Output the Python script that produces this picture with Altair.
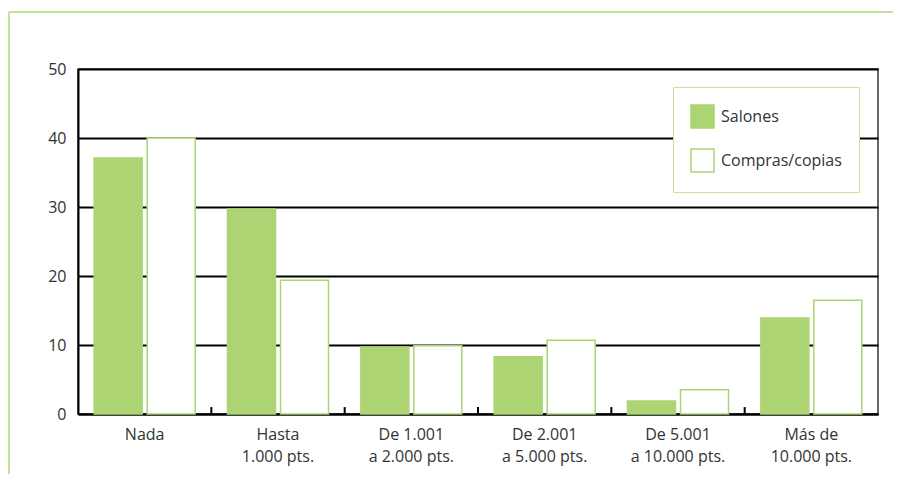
import altair as alt
import pandas as pd

categories = ["Nada", "Hasta\n1.000 pts.", "De 1.001\na 2.000 pts.", "De 2.001\na 5.000 pts.",
              "De 5.001\na 10.000 pts.", "Más de\n10.000 pts."]
series = ["Salones", "Compras/copias"]
salones = [37.1, 29.7, 9.7, 8.3, 1.9, 13.9]
compras = [40.0, 19.4, 9.9, 10.7, 3.5, 16.5]

GREEN = "#acd473"
FRAME = "#c3e29a"
FONT = "Open Sans"
FS = 16

rows = []
for c, s, p in zip(categories, salones, compras):
    rows.append({"cat": c, "serie": series[0], "valor": s})
    rows.append({"cat": c, "serie": series[1], "valor": p})
df = pd.DataFrame(rows)
ticks_df = pd.DataFrame({"cat": categories[1:]})

xscale = alt.Scale(domain=categories, paddingInner=0, paddingOuter=0)
yscale = alt.Scale(domain=[0, 50])

bars = alt.Chart(df).mark_bar(stroke=GREEN, strokeWidth=1.5).encode(
    x=alt.X("cat:N", scale=xscale, sort=categories, title=None,
            axis=alt.Axis(labelAngle=0, labelExpr="split(datum.label, '\\n')",
                          labelFont=FONT, labelFontSize=FS, labelColor="#333333",
                          labelPadding=12, labelLineHeight=22, ticks=False,
                          domainColor="black", domainWidth=2, grid=False)),
    xOffset=alt.XOffset("serie:N", sort=series,
                        scale=alt.Scale(domain=series, paddingInner=0.094, paddingOuter=0.305)),
    y=alt.Y("valor:Q", scale=yscale, title=None,
            axis=alt.Axis(values=[0, 10, 20, 30, 40, 50], ticks=False, labelPadding=12,
                          labelFont=FONT, labelFontSize=FS, labelColor="#333333",
                          domainColor="black", domainWidth=2,
                          grid=True, gridColor="black", gridWidth=2)),
    fill=alt.Fill("serie:N", sort=series,
                  scale=alt.Scale(domain=series, range=[GREEN, "white"]),
                  legend=alt.Legend(title=None, orient="none", legendX=595, legendY=18,
                                    symbolType="square", symbolSize=529,
                                    symbolStrokeColor=GREEN, symbolStrokeWidth=1.5,
                                    labelFont=FONT, labelFontSize=FS, labelColor="#333333",
                                    labelOffset=6, rowPadding=15, padding=17,
                                    strokeColor=FRAME, fillColor="white")),
)

inner_ticks = alt.Chart(ticks_df).mark_rule(color="black", strokeWidth=2).encode(
    x=alt.X("cat:N", scale=xscale, sort=categories, bandPosition=0),
    y=alt.YDatum(0),
    y2=alt.Y2Datum(1),
)

frame_top = alt.Chart(ticks_df.head(1)).mark_rule(color=FRAME, strokeWidth=2).encode(
    x=alt.value(-69), x2=alt.value(830), y=alt.value(-57))
frame_left = alt.Chart(ticks_df.head(1)).mark_rule(color=FRAME, strokeWidth=2).encode(
    x=alt.value(-69), y=alt.value(-57), y2=alt.value(420))

chart = alt.layer(bars, inner_ticks, frame_top, frame_left).properties(
    width=800, height=345,
    autosize=alt.AutoSizeParams(type="none"),
    padding={"left": 70, "top": 61, "right": 15, "bottom": 60},
).configure_view(stroke="#333333", strokeWidth=1.5).configure_axis(labelFont=FONT)

chart.save("out.html", embed_options={"renderer": "svg", "actions": False})
